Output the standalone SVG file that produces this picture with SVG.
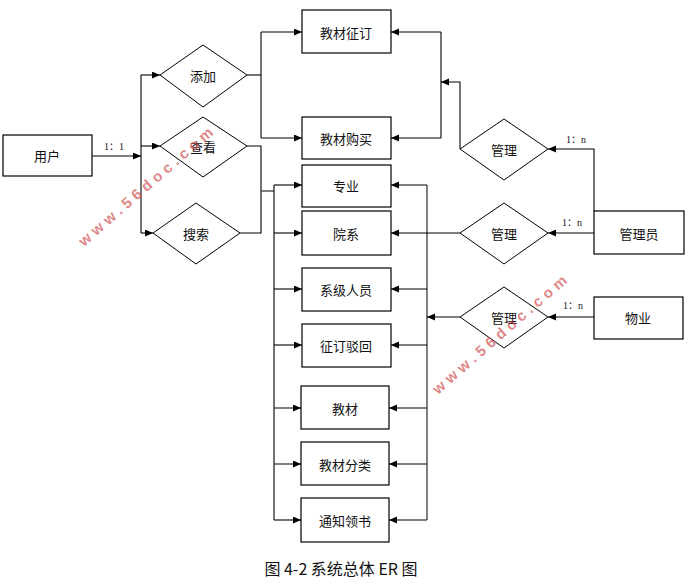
<svg xmlns="http://www.w3.org/2000/svg" width="689" height="587" viewBox="0 0 689 587">
<style>
.box{fill:#fff;stroke:#000;stroke-width:1.2}
.dia{fill:#fff;stroke:#000;stroke-width:1}
.t{font-family:"Noto Sans CJK SC","Liberation Sans",sans-serif;font-size:13px;fill:#111;text-anchor:middle;dominant-baseline:central}
.lbl{font-family:"Liberation Serif","Noto Sans CJK SC",serif;font-size:10px;fill:#111;text-anchor:middle}
.c{fill:none;stroke:#000;stroke-width:1.1}
.g{fill:none;stroke:#555;stroke-width:1.5}
.wm{font-family:"Liberation Sans",sans-serif;font-weight:bold;font-size:15px;fill:#d05050;fill-opacity:0.7;letter-spacing:4.6px}
.cap{font-family:"Noto Sans CJK SC","Liberation Serif",serif;font-size:16px;fill:#111;text-anchor:middle}
</style>
<defs>
<marker id="a" markerWidth="9" markerHeight="8" refX="8" refY="3.5" orient="auto" markerUnits="userSpaceOnUse">
<path d="M0,0 L8,3.5 L0,7 z" fill="#000"/>
</marker>
</defs>
<rect width="689" height="587" fill="#fff"/>

<g id="connectors">
<path class="c" d="M92,156 H141" marker-end="url(#a)"/>
<path class="c" d="M141,75 V233"/>
<path class="c" d="M141,75 H160" marker-end="url(#a)"/>
<path class="c" d="M141,146 H160" marker-end="url(#a)"/>
<path class="c" d="M141,233 H153" marker-end="url(#a)"/>
<path class="c" d="M247,75 H261"/>
<path class="c" d="M261,32 V138"/>
<path class="c" d="M261,32 H302" marker-end="url(#a)"/>
<path class="c" d="M261,138 H302" marker-end="url(#a)"/>
<path class="c" d="M247,146 H261 V233 H240"/>
<path class="g" d="M261,191 H274"/>
<path class="c" d="M274,185 V520"/>
<path class="c" d="M274,185 H302" marker-end="url(#a)"/>
<path class="c" d="M274,233 H302" marker-end="url(#a)"/>
<path class="c" d="M274,289 H302" marker-end="url(#a)"/>
<path class="c" d="M274,345 H302" marker-end="url(#a)"/>
<path class="g" d="M274,408 H301" marker-end="url(#a)"/>
<path class="g" d="M274,464 H301" marker-end="url(#a)"/>
<path class="c" d="M274,520 H301" marker-end="url(#a)"/>
<path class="g" d="M427,185 V520"/>
<path class="c" d="M427,185 H391" marker-end="url(#a)"/>
<path class="c" d="M427,289 H391" marker-end="url(#a)"/>
<path class="c" d="M427,345 H391" marker-end="url(#a)"/>
<path class="g" d="M427,408 H389" marker-end="url(#a)"/>
<path class="g" d="M427,464 H389" marker-end="url(#a)"/>
<path class="c" d="M427,520 H389" marker-end="url(#a)"/>
<path class="c" d="M460,233 H391" marker-end="url(#a)"/>
<path class="c" d="M441,32 V138"/>
<path class="c" d="M441,32 H391" marker-end="url(#a)"/>
<path class="c" d="M441,138 H391" marker-end="url(#a)"/>
<path class="c" d="M460,149 V82 H441" marker-end="url(#a)"/>
<path class="c" d="M594,211 V149 H548" marker-end="url(#a)"/>
<path class="c" d="M594,233 H548" marker-end="url(#a)"/>
<path class="c" d="M594,317 H548" marker-end="url(#a)"/>
<path class="c" d="M460,317 H427" marker-end="url(#a)"/>
<text class="lbl" x="114" y="150">1：1</text>
<text class="lbl" x="576" y="143">1：n</text>
<text class="lbl" x="572" y="226">1：n</text>
<text class="lbl" x="573" y="309">1：n</text>
</g>

<g id="user"><rect class="box" x="3" y="135" width="89" height="41"/><text class="t" x="47" y="155">用户</text></g>
<g id="add"><polygon class="dia" points="160,75 203,45 247,75 203,107"/><text class="t" x="203" y="75">添加</text></g>
<g id="view"><polygon class="dia" points="160,146 203,117 247,146 203,177"/><text class="t" x="203" y="146">查看</text></g>
<g id="search"><polygon class="dia" points="153,233 196,203 240,233 196,264"/><text class="t" x="196" y="233">搜索</text></g>

<g id="order"><rect class="box" x="302" y="10" width="89" height="43"/><text class="t" x="346" y="32">教材征订</text></g>
<g id="purchase"><rect class="box" x="302" y="117" width="89" height="42"/><text class="t" x="346" y="138">教材购买</text></g>
<g id="major"><rect class="box" x="302" y="165" width="89" height="42"/><text class="t" x="346" y="185">专业</text></g>
<g id="dept"><rect class="box" x="302" y="211" width="89" height="44"/><text class="t" x="346" y="233">院系</text></g>
<g id="staff"><rect class="box" x="302" y="268" width="89" height="43"/><text class="t" x="346" y="289">系级人员</text></g>
<g id="reject"><rect class="box" x="302" y="324" width="89" height="43"/><text class="t" x="346" y="345">征订驳回</text></g>
<g id="book"><rect class="box" x="301" y="386" width="88" height="43"/><text class="t" x="345" y="408">教材</text></g>
<g id="category"><rect class="box" x="301" y="442" width="88" height="43"/><text class="t" x="345" y="464">教材分类</text></g>
<g id="notice"><rect class="box" x="301" y="498" width="88" height="44"/><text class="t" x="345" y="520">通知领书</text></g>

<g id="manage1"><polygon class="dia" points="460,149 504,119 548,149 504,180"/><text class="t" x="504" y="149">管理</text></g>
<g id="manage2"><polygon class="dia" points="460,233 504,203 548,233 504,264"/><text class="t" x="504" y="233">管理</text></g>
<g id="manage3"><polygon class="dia" points="460,317 504,287 548,317 504,348"/><text class="t" x="504" y="317">管理</text></g>
<g id="admin"><rect class="box" x="594" y="211" width="90" height="43"/><text class="t" x="639" y="233">管理员</text></g>
<g id="property"><rect class="box" x="594" y="297" width="89" height="42"/><text class="t" x="638" y="317">物业</text></g>

<text class="wm" transform="translate(84,247) rotate(-41)">www.56doc.com</text>
<text class="wm" transform="translate(438,395) rotate(-41)">www.56doc.com</text>

<text class="cap" x="341" y="575">图 4-2 系统总体 ER 图</text>
</svg>
